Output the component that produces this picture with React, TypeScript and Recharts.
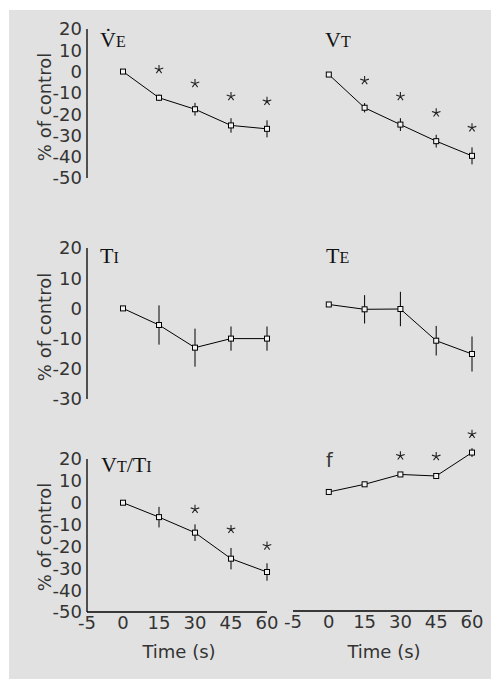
import React from 'react';
import { ComposedChart, Line, XAxis, YAxis, ErrorBar } from 'recharts';

// x positions are category indices: -1 -> "-5", 0 -> "0", 1 -> "15" ...
const timeIndex = [0, 1, 2, 3, 4];
const tickLabels = ['-5', '0', '15', '30', '45', '60'];

const yTicksWide = [20, 10, 0, -10, -20, -30, -40, -50];
const yTicksNarrow = [20, 10, 0, -10, -20, -30];

// minute ventilation
const veMean = [0, -12.3, -17.7, -25.3, -26.9];
const veErr = [0, 1.5, 3, 3.4, 4];
const veStar = [null, 1, -5.6, -11.7, -14];

// tidal volume
const vtMean = [-1.4, -17, -24.9, -32.7, -39.6];
const vtErr = [0, 2.2, 3, 3, 4];
const vtStar = [null, -4.2, -11.7, -19.4, -26.4];

// inspiratory time
const tiMean = [0, -5.5, -13, -10, -10];
const tiErr = [0, 6.5, 6.3, 4, 4];

// expiratory time
const teMean = [1.3, -0.3, -0.2, -10.7, -15.1];
const teErr = [0, 4.7, 5.7, 4.9, 5.8];

// mean inspiratory flow
const ratioMean = [0, -6.6, -13.7, -25.6, -31.7];
const ratioErr = [0, 4.7, 3.8, 4.9, 4];
const ratioStar = [null, null, -3, -12.2, -19.8];

// frequency
const fMean = [4.4, 7.9, 12.4, 11.7, 22.4];
const fErr = [1, 0.5, 0.8, 0.5, 2];
const fStar = [null, null, 20.9, 20.6, 30.8];

const makeRows = (mean: number[], err: number[], star?: (number | null)[]) =>
  timeIndex.map((i, k) => ({ i, m: mean[k], e: err[k], s: star ? star[k] : null }));

const BG = '#e1e1e1';
const SANS = 'DejaVu Sans';
const SERIF = 'Liberation Serif';

const renderSquare = (props: any) => {
  const { cx, cy, index } = props;
  if (cx == null || cy == null) return <g key={`sq-${index}`} />;
  return (
    <rect key={`sq-${index}`} x={cx - 2.5} y={cy - 2.5} width={5} height={5}
      fill="#f2f2f2" stroke="#000" strokeWidth={1} />
  );
};

const renderStar = (props: any) => {
  const { cx, cy, index } = props;
  if (cx == null || cy == null) return <g key={`st-${index}`} />;
  const r = 4.5;
  let d = '';
  for (let k = 0; k < 5; k++) {
    const a = (-90 + k * 72) * Math.PI / 180;
    d += `M${cx},${cy}L${cx + r * Math.cos(a)},${cy + r * Math.sin(a)}`;
  }
  return <path key={`st-${index}`} d={d} stroke="#222" strokeWidth={1.1} fill="none" />;
};

interface PanelProps {
  rows: any[];
  left: number;
  top: number;
  width: number;
  height: number;
  margin: { top: number; right: number; bottom: number; left: number };
  domain: [number, number];
  yTicks?: number[];
  showX?: boolean;
  showY?: boolean;
  stars?: boolean;
}

const tickStyle = { fill: '#333', fontSize: 18, fontFamily: SANS };

const Panel: React.FC<PanelProps> = ({ rows, left, top, width, height, margin, domain, yTicks, showX, showY, stars }) => (
  <div style={{ position: 'absolute', left, top }}>
    <ComposedChart width={width} height={height} data={rows} margin={margin}>
      <XAxis type="number" dataKey="i" domain={[-1, 4]} ticks={[-1, 0, 1, 2, 3, 4]}
        tickFormatter={(v: number) => tickLabels[v + 1]} hide={!showX} height={30}
        axisLine={{ stroke: '#000', strokeWidth: 1.6 }} tickLine={false} tickSize={0} tickMargin={4}
        tick={tickStyle} interval={0} />
      <YAxis type="number" domain={domain} ticks={yTicks} hide={!showY} width={40}
        axisLine={{ stroke: '#000', strokeWidth: 1.3 }} tickLine={false} tickSize={0} tickMargin={5}
        tick={tickStyle} interval={0} />
      <Line dataKey="m" stroke="#000" strokeWidth={1} dot={renderSquare} activeDot={false}
        isAnimationActive={false}>
        <ErrorBar dataKey="e" width={0} stroke="#000" strokeWidth={1} direction="y" />
      </Line>
      {stars && (
        <Line dataKey="s" stroke="none" dot={renderStar} activeDot={false} isAnimationActive={false} />
      )}
    </ComposedChart>
  </div>
);

const Labels: React.FC = () => (
  <svg width={491} height={679} style={{ position: 'absolute', left: 0, top: 0, pointerEvents: 'none' }}>
    {[107, 327, 537].map((cy) => (
      <text key={cy} x={51} y={cy} transform={`rotate(-90, 51, ${cy})`} textAnchor="middle"
        fontFamily={SANS} fontSize={18} fill="#333">% of control</text>
    ))}
    <text x={179} y={658} textAnchor="middle" fontFamily={SANS} fontSize={18} fill="#333">Time (s)</text>
    <text x={384} y={658} textAnchor="middle" fontFamily={SANS} fontSize={18} fill="#333">Time (s)</text>

    <text x={100} y={47} fontFamily={SERIF} fontSize={22} fill="#111">
      {'V\u0307'}<tspan fontSize={16}>E</tspan>
    </text>
    <text x={325} y={47} fontFamily={SERIF} fontSize={22} fill="#111">
      V<tspan fontSize={16}>T</tspan>
    </text>
    <text x={100} y={263} fontFamily={SERIF} fontSize={22} fill="#111">
      T<tspan fontSize={16}>I</tspan>
    </text>
    <text x={326} y={263} fontFamily={SERIF} fontSize={22} fill="#111">
      T<tspan fontSize={16}>E</tspan>
    </text>
    <text x={101} y={472} fontFamily={SERIF} fontSize={22} fill="#111">
      V<tspan fontSize={16}>T</tspan>/T<tspan fontSize={16}>I</tspan>
    </text>
    <text x={326} y={467} fontFamily={SANS} fontSize={19} fill="#333">f</text>
  </svg>
);

export default function App() {
  return (
    <div style={{ position: 'absolute', left: 0, top: 0, width: 491, height: 679, overflow: 'hidden' }}>
      <div style={{ position: 'absolute', left: 9, top: 10, width: 482, height: 669, background: BG }} />

      <Panel rows={makeRows(veMean, veErr, veStar)} left={0} top={10} width={280} height={190}
        margin={{ top: 19, right: 13, bottom: 22, left: 47 }} domain={[-50, 20]} yTicks={yTicksWide} showY stars />
      <Panel rows={makeRows(vtMean, vtErr, vtStar)} left={240} top={10} width={251} height={190}
        margin={{ top: 19, right: 19, bottom: 22, left: 53 }} domain={[-50, 20]} stars />

      <Panel rows={makeRows(tiMean, tiErr)} left={0} top={230} width={280} height={190}
        margin={{ top: 18, right: 13, bottom: 21, left: 47 }} domain={[-30, 20]} yTicks={yTicksNarrow} showY />
      <Panel rows={makeRows(teMean, teErr)} left={240} top={230} width={251} height={190}
        margin={{ top: 18, right: 19, bottom: 21, left: 53 }} domain={[-30, 20]} />

      <Panel rows={makeRows(ratioMean, ratioErr, ratioStar)} left={0} top={440} width={280} height={230}
        margin={{ top: 19, right: 13, bottom: 28, left: 47 }} domain={[-50, 20]} yTicks={yTicksWide} showX showY stars />
      <Panel rows={makeRows(fMean, fErr, fStar)} left={240} top={410} width={251} height={260}
        margin={{ top: 15, right: 19, bottom: 29, left: 53 }} domain={[-50, 35]} showX stars />

      <Labels />
    </div>
  );
}
